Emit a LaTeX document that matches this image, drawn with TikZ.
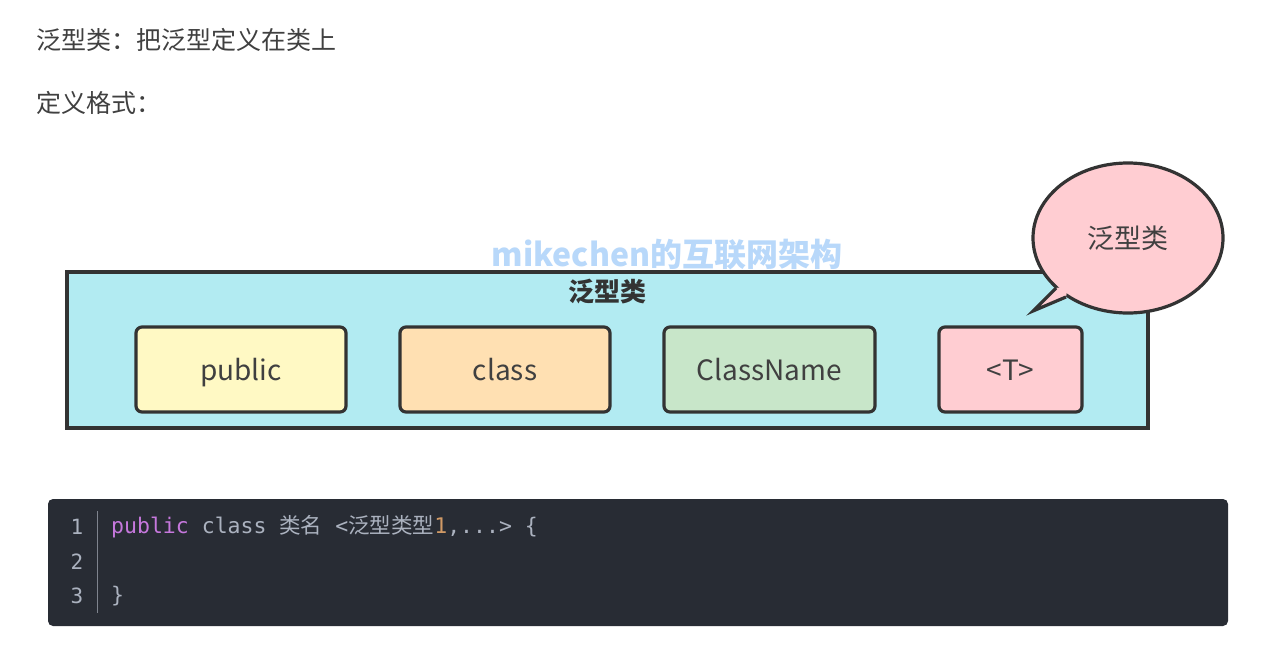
\documentclass[tikz,border=0pt]{standalone}
\usepackage{fontspec}
\setmainfont{Noto Sans CJK SC}
\newfontfamily\cjk{Noto Sans CJK SC}
\newfontfamily\codefont{DejaVu Sans Mono}
\usetikzlibrary{shapes.geometric}
\definecolor{txt}{HTML}{404040}
\definecolor{edge}{HTML}{333333}
\definecolor{cyanbg}{HTML}{B2EBF2}
\definecolor{yel}{HTML}{FFF9C4}
\definecolor{ora}{HTML}{FFE0B2}
\definecolor{grn}{HTML}{C8E6C9}
\definecolor{pnk}{HTML}{FFCDD2}
\definecolor{wm}{HTML}{B8D8FA}
\definecolor{codebg}{HTML}{282C34}
\definecolor{codefg}{HTML}{ABB2BF}
\definecolor{kw}{HTML}{C678DD}
\definecolor{num}{HTML}{D19A66}
\definecolor{sep}{HTML}{7F848E}
\begin{document}
\begin{tikzpicture}[x=1pt,y=-1pt,
  heading/.style={anchor=west,inner sep=0pt,text=txt,font=\fontsize{25}{29}\selectfont},
  item/.style={draw=edge,line width=3.2pt,rounded corners=6pt,minimum height=85pt,inner sep=0pt,text height=24pt,text depth=2pt,text=txt,font=\fontsize{28}{32}\selectfont},
  lineno/.style={inner sep=0pt,text=codefg,font=\codefont\fontsize{21}{25}\selectfont},
]
\useasboundingbox[fill=white] (0,0) rectangle (1277,653);
\node[heading] (h1) at (36,40) {泛型类：把泛型定义在类上};
\node[heading] (h2) at (36,103) {定义格式：};

% main box
\node[draw=edge,fill=cyanbg,line width=3.2pt,minimum width=1081pt,minimum height=156pt,inner sep=0pt] (main) at (607.5,350) {};
\node[inner sep=0pt,text=edge,font=\fontsize{26}{30}\selectfont\bfseries] (title) at (607,292) {泛型类};

\node[item,fill=yel,minimum width=210pt] (pub) at (241,369.5) {public};
\node[item,fill=ora,minimum width=210pt] (cls) at (505,369.5) {class};
\node[item,fill=grn,minimum width=211pt] (cn) at (769.5,369.5) {ClassName};
\node[item,fill=pnk,minimum width=143pt] (tt) at (1010.5,369.5) {<T>};

% bubble
\node[ellipse,draw=edge,fill=pnk,line width=3.2pt,minimum width=190pt,minimum height=150pt,inner sep=0pt,text=txt,font=\fontsize{27}{31}\selectfont] (bub) at (1128,238) {泛型类};
\coordinate (p1) at (1056,288);
\coordinate (tip) at (1033,311);
\coordinate (p2) at (1066,297);
\coordinate (pin) at (1068,286);
\fill[pnk] (p1) -- (tip) -- (p2) -- (pin) -- cycle;
\draw[edge,line width=3.2pt,line join=miter] (p1) -- (tip) -- (p2);

% watermark
\node[inner sep=0pt,text=wm,font=\fontsize{32}{36}\selectfont\bfseries] (wmk) at (667,255) {mikechen的互联网架构};

% code block
\node[fill=codebg,rounded corners=5pt,minimum width=1180pt,minimum height=127pt,inner sep=0pt] (code) at (638,562.5) {};
\node[lineno] (n1) at (77,527) {1};
\node[lineno] (n2) at (77,562) {2};
\node[lineno] (n3) at (77,596) {3};
\coordinate (s1) at (97,511);
\coordinate (s2) at (97,613);
\draw[sep,line width=1pt] (s1) -- (s2);
\node[anchor=west,inner sep=0pt,text=codefg,font=\codefont\fontsize{21.5}{25}\selectfont] (c1) at (111,527) {\textcolor{kw}{public} class {\cjk 类名} <{\cjk 泛型类型}\textcolor{num}{1},...> \{};
\node[anchor=west,inner sep=0pt,text=codefg,font=\codefont\fontsize{21.5}{25}\selectfont] (c3) at (111,596) {\}};
\end{tikzpicture}
\end{document}
